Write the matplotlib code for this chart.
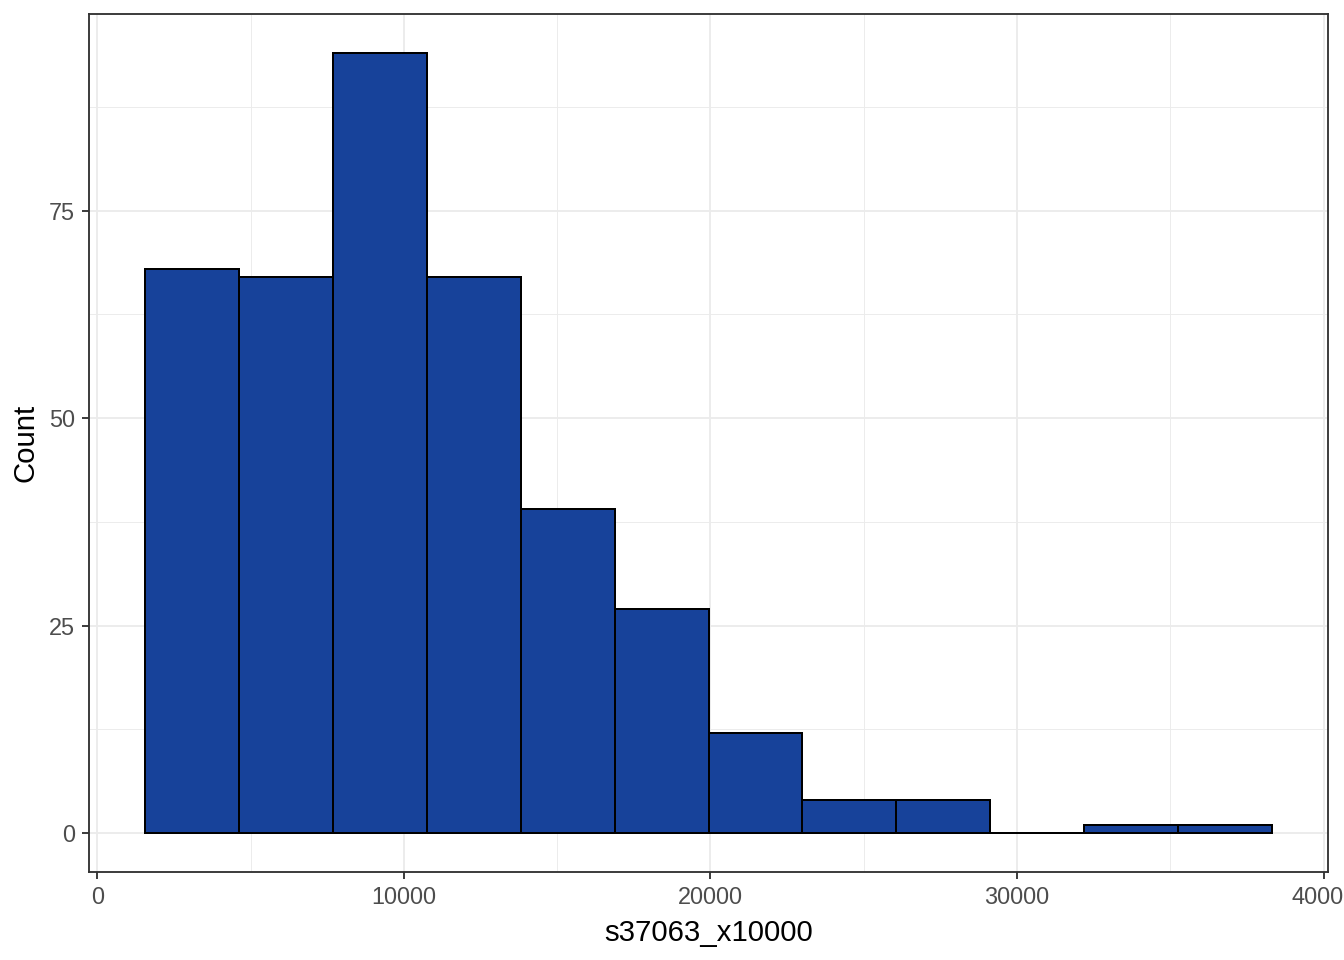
import numpy as np
import matplotlib.pyplot as plt
from matplotlib.ticker import FixedLocator

# Histogram bins
bin_edges = [1563, 4625, 7687, 10749, 13811, 16873, 19935,
             22997, 26059, 29121, 32183, 35245, 38307]
counts = [68, 67, 94, 67, 39, 27, 12, 4, 4, 0, 1, 1]
x_ticks = [0, 10000, 20000, 30000, 40000]
x_minor = [5000, 15000, 25000, 35000]
y_ticks = [0, 25, 50, 75]
y_minor = [12.5, 37.5, 62.5, 87.5]

plt.rcParams['font.family'] = ['Liberation Sans', 'DejaVu Sans']

fig = plt.figure(figsize=(7, 5), dpi=192)
ax = fig.add_axes([89/1344, 88/960, (1328-89)/1344, (946-88)/960])

edges = np.array(bin_edges)
ax.bar(edges[:-1], counts, width=np.diff(edges), align='edge',
       color='#17429A', edgecolor='black', linewidth=0.75, zorder=3)

# ggplot-style expansion (5%)
x_lo, x_hi = edges[0], edges[-1]
pad_x = 0.05 * (x_hi - x_lo)
ax.set_xlim(x_lo - pad_x, x_hi + pad_x)
pad_y = 0.05 * max(counts)
ax.set_ylim(-pad_y, max(counts) + pad_y)

ax.set_xticks(x_ticks)
ax.set_xticklabels([str(v) for v in x_ticks])
ax.set_yticks(y_ticks)
ax.xaxis.set_minor_locator(FixedLocator(x_minor))
ax.yaxis.set_minor_locator(FixedLocator(y_minor))

ax.set_axisbelow(True)
ax.grid(which='major', color='#EBEBEB', linewidth=0.7)
ax.grid(which='minor', color='#EBEBEB', linewidth=0.35)

for s in ax.spines.values():
    s.set_color('#333333')
    s.set_linewidth(0.7)
ax.tick_params(which='major', length=2.75, width=0.7, color='#333333',
               labelsize=8.8, labelcolor='#4D4D4D', pad=2.6)
ax.tick_params(which='minor', length=0)

ax.set_xlabel('s37063_x10000', fontsize=11, labelpad=3.5)
ax.set_ylabel('Count', fontsize=11, labelpad=3.5)

fig.savefig('out.png', dpi=192)
